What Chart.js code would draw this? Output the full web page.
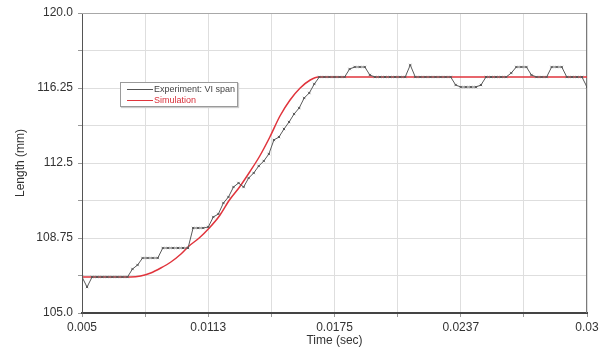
<!DOCTYPE html>
<html>
<head>
<meta charset="utf-8">
<script src="https://cdn.jsdelivr.net/npm/chart.js@4/dist/chart.umd.min.js"></script>
<style>
  html, body { margin: 0; padding: 0; background: #fff; }
  #wrap { position: relative; width: 613px; height: 356px; }
  #legend {
    position: absolute; left: 120px; top: 82px; width: 116px; height: 23px;
    border: 1px solid #9a9a9a; background: #fff; box-shadow: 1px 1px 1px #ccc;
    font-family: "Liberation Sans", Arial, sans-serif; font-size: 9px; line-height: 11px;
  }
  .row { position: absolute; left: 6px; white-space: nowrap; }
  .sw { display: inline-block; width: 26px; height: 0; vertical-align: middle; margin-right: 1px; }
</style>
</head>
<body>
<div id="wrap">
  <canvas id="c" width="613" height="356"></canvas>
  <div id="legend">
    <div class="row" style="top:1px;color:#444;"><span class="sw" style="border-top:1px solid #555;"></span><span id="l0"></span></div>
    <div class="row" style="top:12px;color:#d8303a;"><span class="sw" style="border-top:1px solid #e0343c;"></span><span id="l1"></span></div>
  </div>
</div>
<script>
// ---- data ----
const seriesNames = ['Experiment: VI span', 'Simulation'];

const expTime = [
  0.005, 0.00525, 0.0055, 0.00575, 0.006, 0.00625, 0.0065, 0.00675, 0.007, 0.00725,
  0.0075, 0.00775, 0.008, 0.00825, 0.0085, 0.00875, 0.009, 0.00925, 0.0095, 0.00975,
  0.01, 0.01025, 0.0105, 0.01075, 0.011, 0.01125, 0.0115, 0.01175, 0.012, 0.01225,
  0.0125, 0.01275, 0.013, 0.01325, 0.0135, 0.01375, 0.014, 0.01425, 0.0145, 0.01475,
  0.015, 0.01525, 0.0155, 0.01575, 0.016, 0.01625, 0.0165, 0.01675, 0.017, 0.01725,
  0.0175, 0.01775, 0.018, 0.01825, 0.0185, 0.01875, 0.019, 0.01925, 0.0195, 0.01975,
  0.02, 0.02025, 0.0205, 0.02075, 0.021, 0.02125, 0.0215, 0.02175, 0.022, 0.02225,
  0.0225, 0.02275, 0.023, 0.02325, 0.0235, 0.02375, 0.024, 0.02425, 0.0245, 0.02475,
  0.025, 0.02525, 0.0255, 0.02575, 0.026, 0.02625, 0.0265, 0.02675, 0.027, 0.02725,
  0.0275, 0.02775, 0.028, 0.02825, 0.0285, 0.02875, 0.029, 0.02925, 0.0295, 0.02975,
  0.03
];
const expLength = [
  106.8, 106.3, 106.8, 106.8, 106.8, 106.8, 106.8, 106.8, 106.8, 106.8,
  107.2, 107.4, 107.75, 107.75, 107.75, 107.75, 108.25, 108.25, 108.25, 108.25,
  108.25, 108.25, 109.25, 109.25, 109.25, 109.3, 109.8, 109.95, 110.5, 110.8,
  111.3, 111.5, 111.3, 111.75, 112.0, 112.35, 112.6, 112.95, 113.65, 113.8,
  114.2, 114.55, 114.95, 115.25, 115.75, 116.0, 116.45, 116.8, 116.8, 116.8,
  116.8, 116.8, 116.8, 117.2, 117.3, 117.3, 117.3, 116.9, 116.8, 116.8,
  116.8, 116.8, 116.8, 116.8, 116.8, 117.4, 116.8, 116.8, 116.8, 116.8,
  116.8, 116.8, 116.8, 116.8, 116.4, 116.3, 116.3, 116.3, 116.3, 116.4,
  116.8, 116.8, 116.8, 116.8, 116.8, 117.0, 117.3, 117.3, 117.3, 116.9,
  116.8, 116.8, 116.8, 117.3, 117.3, 117.3, 116.8, 116.8, 116.8, 116.8,
  116.3
];

const simTime = [0.005, 0.0074, 0.0079, 0.0084, 0.0089, 0.0094, 0.0099, 0.0103, 0.0108, 0.0113,
  0.0118, 0.0123, 0.0128, 0.0133, 0.0138, 0.0143, 0.0148, 0.0153, 0.0158, 0.0163, 0.0167, 0.03];
const simLength = [106.8, 106.8, 106.85, 107.0, 107.25, 107.55, 107.95, 108.35, 108.75, 109.25,
  109.85, 110.65, 111.3, 112.05, 112.85, 113.8, 114.85, 115.65, 116.25, 116.65, 116.8, 116.8];

const xTickValues = [0.005, 0.008125, 0.01125, 0.014375, 0.0175, 0.020625, 0.02375, 0.026875, 0.03];
const xTickLabels = ['0.005', '', '0.0113', '', '0.0175', '', '0.0237', '', '0.03'];
const yTickValues = [105, 106.875, 108.75, 110.625, 112.5, 114.375, 116.25, 118.125, 120];
const yTickLabels = ['105.0', '', '108.75', '', '112.5', '', '116.25', '', '120.0'];

// ---- chart ----
document.getElementById('l0').textContent = seriesNames[0];
document.getElementById('l1').textContent = seriesNames[1];

const FONT = '"Liberation Sans", Arial, sans-serif';

const frame = {
  id: 'frame',
  beforeDatasetsDraw(chart) {
    const a = chart.chartArea, ctx = chart.ctx;
    ctx.save();
    ctx.strokeStyle = '#a8a8a8';
    ctx.lineWidth = 1;
    ctx.beginPath();
    ctx.moveTo(a.left, a.top + 0.5); ctx.lineTo(a.right, a.top + 0.5);
    ctx.stroke();
    ctx.strokeStyle = '#7a7a7a';
    ctx.beginPath();
    ctx.moveTo(a.right - 0.5, a.top); ctx.lineTo(a.right - 0.5, a.bottom);
    ctx.stroke();
    ctx.restore();
  }
};

new Chart(document.getElementById('c'), {
  type: 'scatter',
  data: {
    datasets: [
      {
        label: seriesNames[1],
        data: simTime.map((t, i) => ({ x: t, y: simLength[i] })),
        showLine: true,
        borderColor: '#e0343c',
        borderWidth: 1.5,
        pointRadius: 0,
        cubicInterpolationMode: 'monotone',
        order: 2
      },
      {
        label: seriesNames[0],
        data: expTime.map((t, i) => ({ x: t, y: expLength[i] })),
        showLine: true,
        borderColor: '#5a5a5a',
        borderWidth: 1,
        pointStyle: 'crossRot',
        pointRadius: 1.6,
        pointBorderColor: '#555',
        pointBorderWidth: 1,
        tension: 0,
        order: 1
      }
    ]
  },
  options: {
    responsive: false,
    animation: false,
    devicePixelRatio: 1,
    layout: { padding: { top: 13, right: 26, left: 0, bottom: 0 } },
    plugins: { legend: { display: false }, tooltip: { enabled: false } },
    scales: {
      x: {
        type: 'linear',
        min: 0.005, max: 0.03,
        afterBuildTicks(s) { s.ticks = xTickValues.map(v => ({ value: v })); },
        afterFit(s) { s.height = 43; },
        ticks: {
          autoSkip: false, maxRotation: 0, padding: 3,
          color: '#333', font: { family: FONT, size: 12 },
          callback: (v, i) => xTickLabels[i]
        },
        grid: { color: '#dedede', lineWidth: 1, tickLength: 4, tickColor: '#999' },
        border: { color: '#444', width: 2 },
        title: {
          display: true, text: 'Time (sec)', color: '#333',
          font: { family: FONT, size: 12 }, padding: { top: 0, bottom: 8 }
        }
      },
      y: {
        type: 'linear',
        min: 105, max: 120,
        afterBuildTicks(s) { s.ticks = yTickValues.map(v => ({ value: v })); },
        afterFit(s) { s.width = 82; },
        ticks: {
          autoSkip: false, padding: 5,
          color: '#333', font: { family: FONT, size: 12 },
          callback: (v, i) => yTickLabels[i]
        },
        grid: { color: '#dedede', lineWidth: 1, tickLength: 4, tickColor: '#999' },
        border: { color: '#555', width: 1 },
        title: {
          display: true, text: 'Length (mm)', color: '#333',
          font: { family: FONT, size: 12 }, padding: { top: 13, bottom: 0 }
        }
      }
    }
  },
  plugins: [frame]
});
</script>
</body>
</html>
